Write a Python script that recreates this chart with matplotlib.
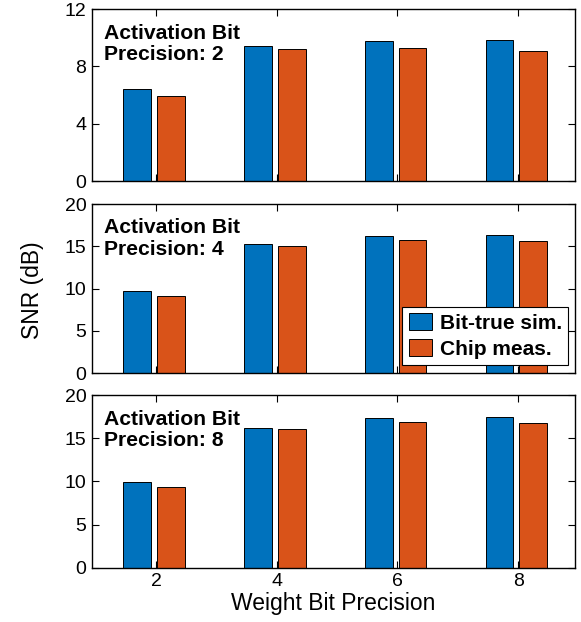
import numpy as np
import matplotlib
matplotlib.use("Agg")
import matplotlib.pyplot as plt

plt.rcParams['font.family'] = ['Liberation Sans', 'DejaVu Sans']

weight_bits = ['2', '4', '6', '8']
act_bits = [2, 4, 8]
sim_snr = [
    [6.42, 9.44, 9.77, 9.82],
    [9.72, 15.31, 16.26, 16.38],
    [9.96, 16.14, 17.37, 17.45],
]
chip_snr = [
    [5.93, 9.23, 9.26, 9.09],
    [9.13, 15.04, 15.75, 15.63],
    [9.38, 16.02, 16.87, 16.76],
]
ylims = [(0, 12), (0, 20), (0, 20)]
yticks = [[0, 4, 8, 12], [0, 5, 10, 15, 20], [0, 5, 10, 15, 20]]

blue = '#0072BD'
orange = '#D95319'

W, H = 581, 622
fig = plt.figure(figsize=(W / 100, H / 100), dpi=100)

# panel frames in pixels (top, bottom)
frames = [(9, 181), (204, 373), (395, 567.7)]
left, right = 92, 575

x = np.arange(1, len(weight_bits) + 1)
bw = 0.23
off = 0.14

axes = []
for i, (top, bot) in enumerate(frames):
    ax = fig.add_axes([left / W, (H - bot) / H, (right - left) / W, (bot - top) / H])
    axes.append(ax)
    ax.bar(x - off - 0.015, sim_snr[i], bw, color=blue, edgecolor='black', linewidth=0.7,
           label='Bit-true sim.')
    ax.bar(x + off - 0.015, chip_snr[i], bw, color=orange, edgecolor='black', linewidth=0.7,
           label='Chip meas.')
    ax.set_xlim(0.47, 4.47)
    ax.set_ylim(*ylims[i])
    ax.set_yticks(yticks[i])
    ax.set_xticks(x)
    ax.tick_params(direction='in', length=5, width=0.8, top=True, right=True,
                   labelsize=14, pad=4)
    for s in ax.spines.values():
        s.set_linewidth(1.0)
    if i < 2:
        ax.set_xticklabels([])
    else:
        ax.set_xticklabels(weight_bits)
        ax.set_xlabel('Weight Bit Precision', fontsize=16.5, labelpad=1)
    ax.text(0.025, 0.915, 'Activation Bit\nPrecision: %d' % act_bits[i], transform=ax.transAxes,
            fontsize=15.2, fontweight='bold', va='top', ha='left', linespacing=1.15)
    if i == 1:
        leg = ax.legend(loc='lower right', bbox_to_anchor=(0.986, 0.047), borderaxespad=0,
                        fancybox=False, edgecolor='black', framealpha=1,
                        prop={'size': 15, 'weight': 'bold'},
                        handlelength=1.1, handleheight=0.9, handletextpad=0.4,
                        borderpad=0.3, labelspacing=0.3)
        leg.get_frame().set_linewidth(0.8)

fig.text(32 / W, 1 - 290 / H, 'SNR (dB)', rotation=90, fontsize=16.5, ha='center', va='center')

fig.savefig('out.png', dpi=100)
